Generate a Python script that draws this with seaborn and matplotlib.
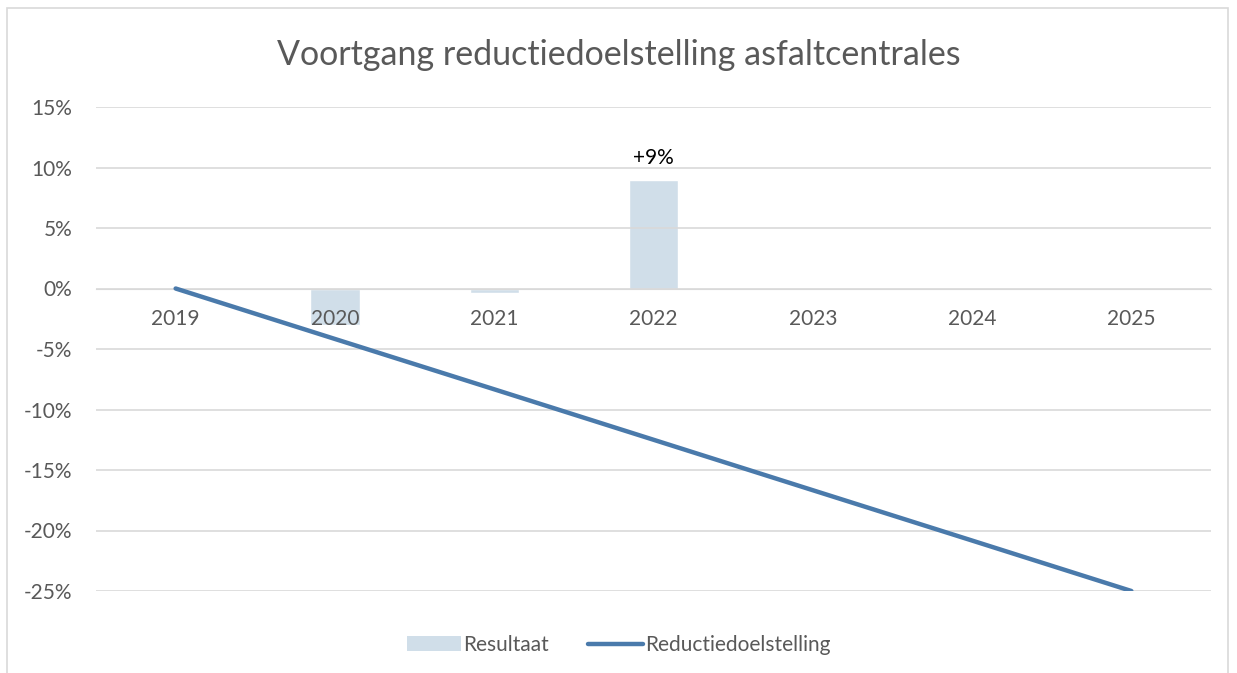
import numpy as np
import pandas as pd
import matplotlib
matplotlib.use('Agg')
import matplotlib.pyplot as plt
from matplotlib.patches import Rectangle, Patch
from matplotlib.lines import Line2D
from matplotlib.ticker import FuncFormatter
import seaborn as sns

# ── data ──────────────────────────
years = ['2019', '2020', '2021', '2022', '2023', '2024', '2025']
resultaat = [np.nan, -3.0, -0.4, 9.0, np.nan, np.nan, np.nan]        # %
doelstelling = [0.0, -4.17, -8.33, -12.5, -16.67, -20.83, -25.0]     # %
yticks = [15, 10, 5, 0, -5, -10, -15, -20, -25]

BAR_C = '#d0dee9'
LINE_C = '#4a7aab'
TXT_C = '#595959'
GRID_C = '#d9d9d9'

sns.set_style('white')
plt.rcParams['font.family'] = ['Lato', 'DejaVu Sans']

df = pd.DataFrame({'jaar': years, 'resultaat': resultaat, 'doel': doelstelling})

fig = plt.figure(figsize=(12.37, 6.73), dpi=100)
ax = fig.add_axes([96 / 1237, 1 - 591 / 673, 1115 / 1237, 484 / 673])

# frame around the chart area
fig.patches.append(Rectangle((7 / 1237, -0.01), 1221 / 1237, 1 - 8 / 673 + 0.01,
                             transform=fig.transFigure, fill=False,
                             edgecolor=GRID_C, linewidth=1.2))

# bars under the axis (tick labels / grid), line on top
sns.barplot(data=df, x='jaar', y='resultaat', color=BAR_C, width=0.31,
            saturation=1, ax=ax, zorder=0.3)
sns.lineplot(x=np.arange(len(years)), y=df['doel'], color=LINE_C, linewidth=3.2,
             solid_capstyle='round', ax=ax, zorder=3)

# data label on the largest bar
i_max = int(np.nanargmax(resultaat))
ax.annotate(f"+{resultaat[i_max]:.0f}%", (i_max, resultaat[i_max]),
            xytext=(0, 8), textcoords='offset points', ha='center', va='bottom',
            fontsize=15, color='black')

ax.set_xlim(-0.5, len(years) - 0.5)
ax.set_ylim(-25, 15)
ax.set_yticks(yticks)
ax.yaxis.set_major_formatter(FuncFormatter(lambda v, _: f"{v:.0f}%"))
ax.set_axisbelow(True)
ax.grid(axis='y', color=GRID_C, linewidth=1.2)
for s in ['top', 'right', 'left']:
    ax.spines[s].set_visible(False)
ax.spines['bottom'].set_position(('data', 0))
ax.spines['bottom'].set_color(GRID_C)
ax.spines['bottom'].set_zorder(0.5)
ax.tick_params(axis='x', length=0, pad=15, labelsize=15, labelcolor=TXT_C)
ax.tick_params(axis='y', length=0, pad=17, labelsize=15, labelcolor=TXT_C)
ax.set_xlabel('')
ax.set_ylabel('')

fig.text(0.5, 1 - 55 / 673, 'Voortgang reductiedoelstelling asfaltcentrales',
         ha='center', va='center', fontsize=24.5, color=TXT_C)

handles = [Patch(facecolor=BAR_C, edgecolor='none'),
           Line2D([0], [0], color=LINE_C, linewidth=3.2, solid_capstyle='round')]
fig.legend(handles, ['Resultaat', 'Reductiedoelstelling'], loc='center',
           bbox_to_anchor=(0.5, 1 - 645 / 673), ncol=2, frameon=False,
           fontsize=15, labelcolor=TXT_C, handlelength=2.6, handleheight=0.7,
           handletextpad=0.1, columnspacing=1.9)

fig.savefig('out.png', dpi=100)
